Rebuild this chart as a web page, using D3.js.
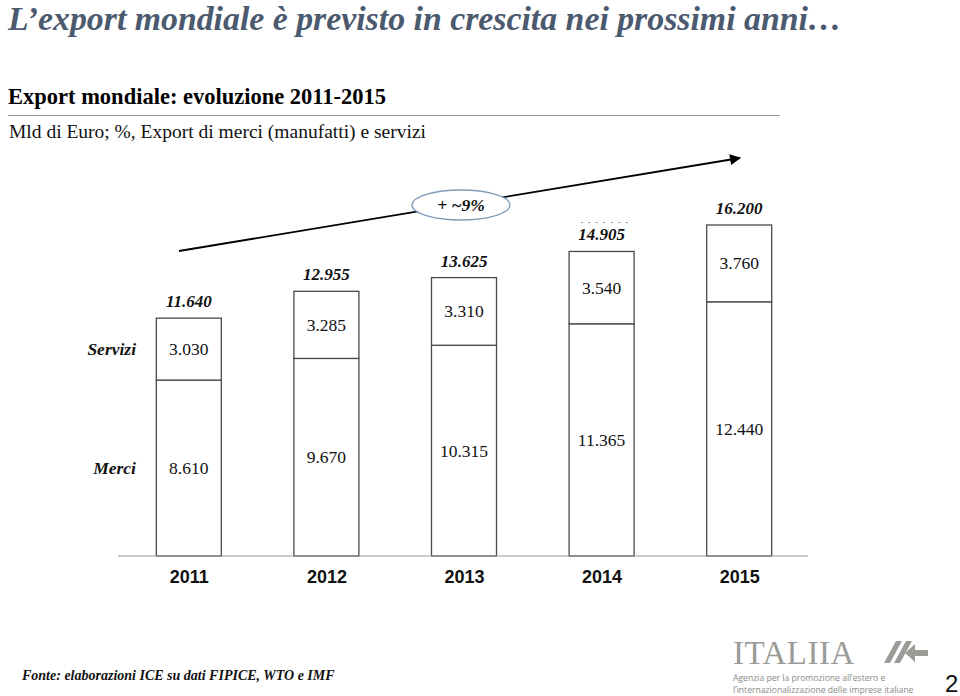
<!DOCTYPE html>
<html>
<head>
<meta charset="utf-8">
<script src="https://cdn.jsdelivr.net/npm/d3@7"></script>
<style>
  html, body { margin: 0; padding: 0; background: #fff; }
  svg { display: block; }
</style>
</head>
<body>
<script>
const years = ["2011", "2012", "2013", "2014", "2015"];
const merci = [8610, 9670, 10315, 11365, 12440];
const servizi = [3030, 3285, 3310, 3540, 3760];
const totals = [11640, 12955, 13625, 14905, 16200];
const seriesNames = ["Merci", "Servizi"];
const growthLabel = "+ ~9%";

const fmtIt = v => {
  const s = String(v);
  return s.slice(0, s.length - 3) + "." + s.slice(s.length - 3);
};

const W = 960, H = 696;
const svg = d3.select("body").append("svg").attr("width", W).attr("height", H);

const serif = "'Liberation Serif', 'Times New Roman', serif";
const sans = "'Liberation Sans', Arial, sans-serif";

// Title
svg.append("text").attr("x", 8).attr("y", 30)
  .attr("font-family", serif).attr("font-weight", "bold").attr("font-style", "italic")
  .attr("font-size", 33.8).attr("fill", "#4b5a6e")
  .text("L\u2019export mondiale è previsto in crescita nei prossimi anni…");

svg.append("text").attr("x", 8).attr("y", 104)
  .attr("font-family", serif).attr("font-weight", "bold")
  .attr("font-size", 22.5).attr("fill", "#000")
  .text("Export mondiale: evoluzione 2011-2015");

svg.append("line").attr("x1", 8).attr("x2", 780).attr("y1", 115.5).attr("y2", 115.5)
  .attr("stroke", "#9a9a9a").attr("stroke-width", 1.2);

svg.append("text").attr("x", 9).attr("y", 138)
  .attr("font-family", serif).attr("font-size", 19.5).attr("fill", "#111")
  .text("Mld di Euro; %, Export di merci (manufatti) e servizi");

// Scales
const x = d3.scalePoint().domain(years).range([188.8, 739.2]);
const y = d3.scaleLinear().domain([0, d3.max(totals)]).range([556, 225]);
const barW = 65;

const data = years.map((yr, i) => ({ year: yr, Merci: merci[i], Servizi: servizi[i], total: totals[i] }));
const stack = d3.stack().keys(seriesNames)(data);

const g = svg.append("g");

stack.forEach(layer => {
  g.selectAll(null).data(layer).enter().append("rect")
    .attr("x", d => x(d.data.year) - barW / 2)
    .attr("width", barW)
    .attr("y", d => y(d[1]))
    .attr("height", d => y(d[0]) - y(d[1]))
    .attr("fill", "#fff")
    .attr("stroke", "#4a4a4a")
    .attr("stroke-width", 1.3);
});

stack.forEach(layer => {
  g.selectAll(null).data(layer).enter().append("text")
    .attr("x", d => x(d.data.year))
    .attr("y", d => (y(d[0]) + y(d[1])) / 2 + 6)
    .attr("text-anchor", "middle")
    .attr("font-family", serif).attr("font-size", 17.5).attr("fill", "#111")
    .text(d => fmtIt(d[1] - d[0]));
});

g.selectAll(null).data(data).enter().append("text")
  .attr("x", d => x(d.year))
  .attr("y", d => y(d.total) - 11)
  .attr("text-anchor", "middle")
  .attr("font-family", serif).attr("font-weight", "bold").attr("font-style", "italic")
  .attr("font-size", 17).attr("fill", "#111")
  .text(d => fmtIt(d.total));

const first = stack.map(layer => layer[0]);
seriesNames.forEach((name, k) => {
  const seg = first[k];
  svg.append("text")
    .attr("x", 136).attr("y", (y(seg[0]) + y(seg[1])) / 2 + 6)
    .attr("text-anchor", "end")
    .attr("font-family", serif).attr("font-weight", "bold").attr("font-style", "italic")
    .attr("font-size", 17.5).attr("fill", "#111")
    .text(name);
});

svg.append("line").attr("x1", 118).attr("x2", 808).attr("y1", y(0)).attr("y2", y(0))
  .attr("stroke", "#9a9a9a").attr("stroke-width", 1.2);

const xAxis = d3.axisBottom(x).tickSize(0).tickPadding(0);
const ax = svg.append("g").attr("transform", `translate(0,${y(0) + 27})`).call(xAxis);
ax.select(".domain").remove();
ax.selectAll("text").attr("font-family", sans).attr("font-weight", "bold")
  .attr("font-size", 18).attr("fill", "#111").attr("dy", 0);

// growth arrow
const defs = svg.append("defs");
defs.append("marker").attr("id", "arr").attr("viewBox", "0 0 10 10")
  .attr("refX", 9).attr("refY", 5).attr("markerWidth", 13).attr("markerHeight", 11)
  .attr("orient", "auto").attr("markerUnits", "userSpaceOnUse")
  .append("path").attr("d", "M0,0 L10,5 L0,10 z").attr("fill", "#000");

svg.append("line").attr("x1", 179).attr("y1", 251).attr("x2", 740).attr("y2", 158)
  .attr("stroke", "#000").attr("stroke-width", 1.8).attr("marker-end", "url(#arr)");

svg.append("ellipse").attr("cx", 461).attr("cy", 205).attr("rx", 49).attr("ry", 15)
  .attr("fill", "#fff").attr("stroke", "#7f9bb8").attr("stroke-width", 1.3);
svg.append("text").attr("x", 461).attr("y", 211).attr("text-anchor", "middle")
  .attr("font-family", serif).attr("font-weight", "bold").attr("font-style", "italic")
  .attr("font-size", 17.5).attr("fill", "#111").text(growthLabel);

svg.append("line").attr("x1", 581).attr("x2", 630).attr("y1", 222.5).attr("y2", 222.5)
  .attr("stroke", "#777").attr("stroke-width", 1).attr("stroke-dasharray", "1.5,6");

// footer
svg.append("text").attr("x", 22).attr("y", 680)
  .attr("font-family", serif).attr("font-weight", "bold").attr("font-style", "italic")
  .attr("font-size", 14).attr("fill", "#111")
  .text("Fonte: elaborazioni ICE su dati FIPICE, WTO e IMF");

// logo
svg.append("text").attr("x", 733).attr("y", 664)
  .attr("font-family", serif).attr("font-size", 33).attr("fill", "#9b9b97")
  .attr("letter-spacing", 0.5).text("ITALIIA");
const logoG = svg.append("g").attr("fill", "#9b9b97");
logoG.append("path").attr("d", "M884,663 L896,641 L902,641 L890,663 Z");
logoG.append("path").attr("d", "M894,663 L906,641 L912,641 L900,663 Z");
logoG.append("path").attr("d", "M905,653 L915,644 L915,650 L928,650 L928,656 L915,656 L915,662 Z");
svg.append("text").attr("x", 733).attr("y", 681)
  .attr("font-family", "'Open Sans', sans-serif").attr("font-size", 8.6).attr("fill", "#8a8a86")
  .text("Agenzia per la promozione all\u2019estero e");
svg.append("text").attr("x", 733).attr("y", 693)
  .attr("font-family", "'Open Sans', sans-serif").attr("font-size", 8.6).attr("fill", "#8a8a86")
  .text("l\u2019internazionalizzazione delle imprese italiane");
svg.append("text").attr("x", 945).attr("y", 692)
  .attr("font-family", sans).attr("font-size", 24).attr("fill", "#111").text("2");
</script>
</body>
</html>
